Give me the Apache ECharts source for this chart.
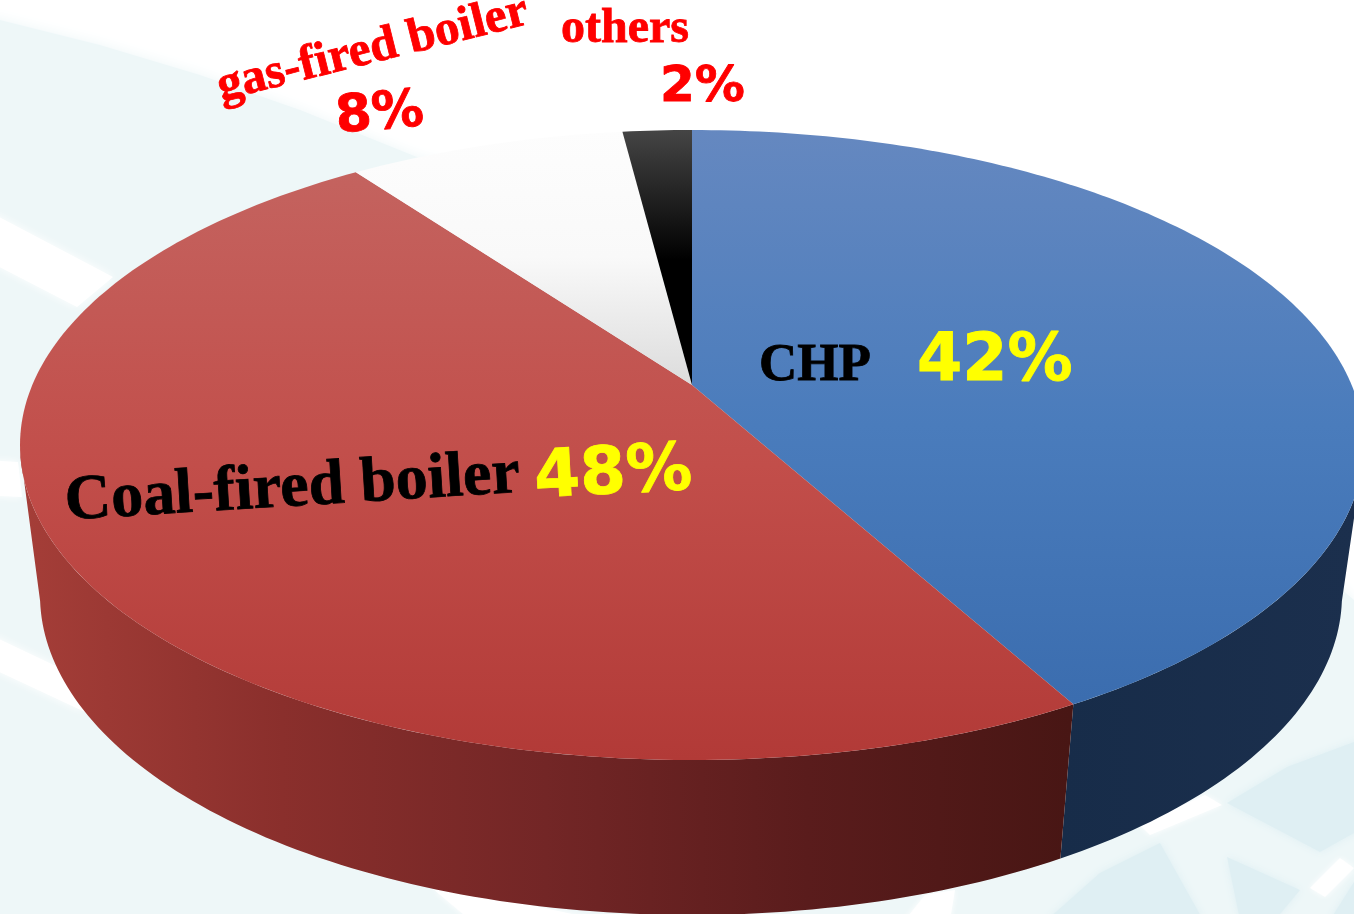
<!DOCTYPE html>
<html>
<head>
<meta charset="utf-8">
<style>html,body{margin:0;padding:0;background:#fff}#c{width:1354px;height:914px}</style>
<script src="https://cdn.jsdelivr.net/npm/echarts@6/dist/echarts.min.js"></script>
</head>
<body>
<div id="c"></div>
<script>
const categories = ['CHP', 'Coal-fired boiler', 'gas-fired boiler', 'others'];
const shares = [42, 48, 8, 2];

// perspective model of the pie disc
const K = -0.19;
const topRim = {cy: 445, rx: 672, ry: 315, ox: 692};
const baseRim = {cy: 595, rx: 651, ry: 320, ox: 691};
function project(rim, deg) {
  const a = deg * Math.PI / 180, u = Math.sin(a), v = -Math.cos(a), d = 1 + K * v;
  return [rim.ox + rim.rx * Math.sqrt(1 - K * K) * u / d, rim.cy + rim.ry * (v + K) / d];
}
const apex = [692, 385];
const total = shares.reduce((a, b) => a + b, 0);
function span(i) {
  let s = 0;
  for (let j = 0; j < i; j++) s += shares[j];
  return [s / total * 360, (s + shares[i]) / total * 360];
}
function arc(rim, from, to) {
  const pts = [], n = Math.max(2, Math.ceil(Math.abs(to - from)));
  for (let i = 0; i <= n; i++) pts.push(project(rim, from + (to - from) * i / n));
  return pts;
}
function vgrad(y1, y2, stops) {
  return {type: 'linear', global: true, x: 0, y: y1, x2: 0, y2: y2,
    colorStops: stops.map((c, i) => ({offset: i / (stops.length - 1), color: c}))};
}
function hgrad(x1, x2, stops) {
  return {type: 'linear', global: true, x: x1, y: 0, x2: x2, y2: 0,
    colorStops: stops.map((c, i) => ({offset: i / (stops.length - 1), color: c}))};
}
const topFill = [
  vgrad(130, 720, ['#6588c0', '#4a7cbc', '#3a6cae']),
  vgrad(170, 760, ['#c4635f', '#c24e4a', '#b23a37']),
  vgrad(130, 385, ['#fdfdfd', '#f9f9f9', '#dcdcdc']),
  vgrad(130, 260, ['#454545', '#000000'])
];
const wallFill = [
  hgrad(1060, 1354, ['#172c49', '#1b2f4d']),
  hgrad(20, 1070, ['#a53e38', '#8a2f2c', '#732626', '#5a1c1c', '#481614']),
  '#ddd', '#000'
];
// visible part of each wall, clockwise degrees from 12 o'clock
const wallRange = [[102, null], [null, 258], null, null];

const serif = '"Liberation Serif","Times New Roman",serif';
const sans = '"DejaVu Sans",sans-serif';
const labelStyle = [
  {name: {x: 759, y: 393, size: 53, rot: 0, fill: '#000'}, pct: {x: 917, y: 396, size: 65, rot: 0, fill: '#ff0'}},
  {name: {x: 67, y: 535, size: 64, rot: 3.5, fill: '#000'}, pct: {x: 536, y: 513, size: 66, rot: 3, fill: '#ff0'}},
  {name: {x: 224, y: 112, size: 49, rot: 14, fill: '#f00'}, pct: {x: 338, y: 145, size: 52, rot: 5, fill: '#f00'}},
  {name: {x: 561, y: 54, size: 48, rot: 0, fill: '#f00'}, pct: {x: 660, y: 113, size: 50, rot: 0, fill: '#f00'}}
];
function textEl(t, s, family) {
  return {
    type: 'text', x: s.x, y: s.y, rotation: s.rot * Math.PI / 180,
    style: {text: t, fill: s.fill, stroke: s.fill, lineWidth: 0.8, font: 'bold ' + s.size + 'px ' + family, textAlign: 'left', textBaseline: 'bottom', textVerticalAlign: 'bottom'}
  };
}
function soft(points, fill, blur) {
  return {type: 'polygon', z: 0, shape: {points}, style: {fill, shadowColor: fill, shadowBlur: blur}};
}
const bg = [
  soft([[0,20],[100,45],[200,75],[300,110],[417,157],[1000,300],[1354,600],[1354,960],[-20,960],[-20,15]], '#eef7f8', 14),
  soft([[1227,803],[1287,767],[1354,742],[1380,742],[1380,833],[1354,833],[1320,852]], '#dfeff3', 8),
  soft([[1047,920],[1100,873],[1160,843],[1203,920]], '#dfeff3', 8),
  soft([[1227,857],[1300,890],[1275,920],[1240,920]], '#dfeff3', 8),
  soft([[1330,920],[1354,882],[1380,882],[1380,920]], '#dfeff3', 8),
  soft([[-20,207],[113,277],[77,307],[-20,257]], '#ffffff', 10),
  soft([[-20,460],[18,462],[22,497],[-20,495]], '#ffffff', 8),
  soft([[-20,630],[60,668],[85,712],[-20,663]], '#ffffff', 10),
  soft([[433,889],[530,905],[600,920],[470,920]], '#ffffff', 6),
  soft([[925,895],[955,890],[950,920],[905,920]], '#ffffff', 6),
  soft([[1150,835],[1222,805],[1205,795],[1140,825]], '#ffffff', 6),
  soft([[1310,888],[1340,858],[1354,868],[1325,897]], '#ffffff', 6)
];

const chart = echarts.init(document.getElementById('c'), null, {renderer: 'canvas'});
chart.setOption({
  animation: false,
  backgroundColor: '#fff',
  graphic: {elements: bg},
  series: [
    {
      type: 'custom', coordinateSystem: 'none', z: 2, silent: true,
      data: shares,
      renderItem(params) {
        const i = params.dataIndex, [a, b] = span(i), r = wallRange[i];
        if (!r) return {type: 'group', children: []};
        const from = r[0] === null ? a : Math.max(a, r[0]);
        const to = r[1] === null ? b : Math.min(b, r[1]);
        const pts = arc(topRim, from, to).concat(arc(baseRim, to, from));
        return {type: 'polygon', shape: {points: pts}, style: {fill: wallFill[i]}};
      }
    },
    {
      type: 'custom', coordinateSystem: 'none', z: 3, silent: true,
      data: shares,
      renderItem(params) {
        const i = params.dataIndex, [a, b] = span(i);
        const pts = [apex].concat(arc(topRim, a, b));
        return {type: 'polygon', shape: {points: pts}, style: {fill: topFill[i]}};
      }
    },
    {
      type: 'custom', coordinateSystem: 'none', z: 4, silent: true,
      data: shares,
      renderItem(params, api) {
        const i = params.dataIndex, st = labelStyle[i];
        return {type: 'group', children: [
          textEl(categories[i], st.name, serif),
          textEl(api.value(0) + '%', st.pct, sans)
        ]};
      }
    }
  ]
});
</script>
</body>
</html>
